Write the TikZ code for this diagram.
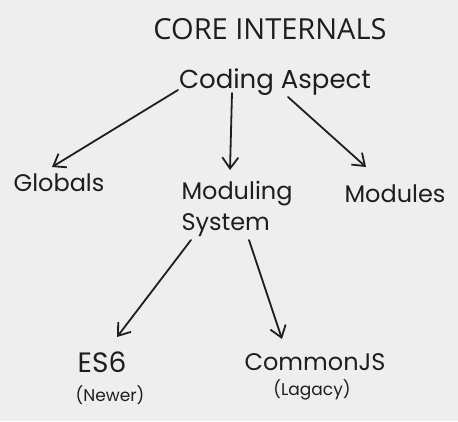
\documentclass[tikz,border=0pt]{standalone}
\usepackage{fontspec}
\setmainfont{Poppins}
\newfontfamily\titlefont{Open Sans}
\usetikzlibrary{arrows.meta}
\definecolor{bgc}{HTML}{EEEEEE}
\definecolor{ink}{HTML}{1E1E1E}
\begin{document}
\begin{tikzpicture}[x=1pt,y=-1pt,
  lbl/.style={text=ink,font=\fontsize{24}{31}\selectfont,inner sep=0pt,align=left},
  small/.style={text=ink,font=\fontsize{17}{19}\selectfont,inner sep=0pt},
  conn/.style={draw=ink,line width=1.8pt,line cap=round,-{Straight Barb[length=11pt,width=16pt,line width=1.8pt]}}]
\fill[bgc] (0,0) rectangle (458,421);
\useasboundingbox (0,0) rectangle (458,421);
\node[text=ink,font=\titlefont\fontsize{29}{32}\selectfont,inner sep=0pt] (title) at (270,29) {CORE INTERNALS};
\node[lbl,font=\fontsize{26}{31}\selectfont] (coding) at (275,82) {Coding Aspect};
\node[lbl] (globals) at (59,183) {Globals};
\node[lbl] (moduling) at (237,209) {Moduling\\System};
\node[lbl] (modules) at (395,194) {Modules};
\node[lbl,font=\fontsize{28}{31}\selectfont] (es6) at (102,362) {ES6};
\node[small] (newer) at (110,395) {(Newer)};
\node[lbl] (commonjs) at (315,362) {CommonJS};
\node[small] (lagacy) at (312,390) {(Lagacy)};
\coordinate (c1) at (178,90);  \coordinate (g1) at (52,167);
\coordinate (c2) at (232,93);  \coordinate (m1) at (230,170);
\coordinate (c3) at (288,97);  \coordinate (d1) at (366,167);
\coordinate (s1) at (191,240); \coordinate (e1) at (117,337);
\coordinate (s2) at (249,240); \coordinate (j1) at (282,339);
\draw[conn] (c1) -- (g1);
\draw[conn] (c2) -- (m1);
\draw[conn] (c3) -- (d1);
\draw[conn] (s1) -- (e1);
\draw[conn] (s2) -- (j1);
\end{tikzpicture}
\end{document}
